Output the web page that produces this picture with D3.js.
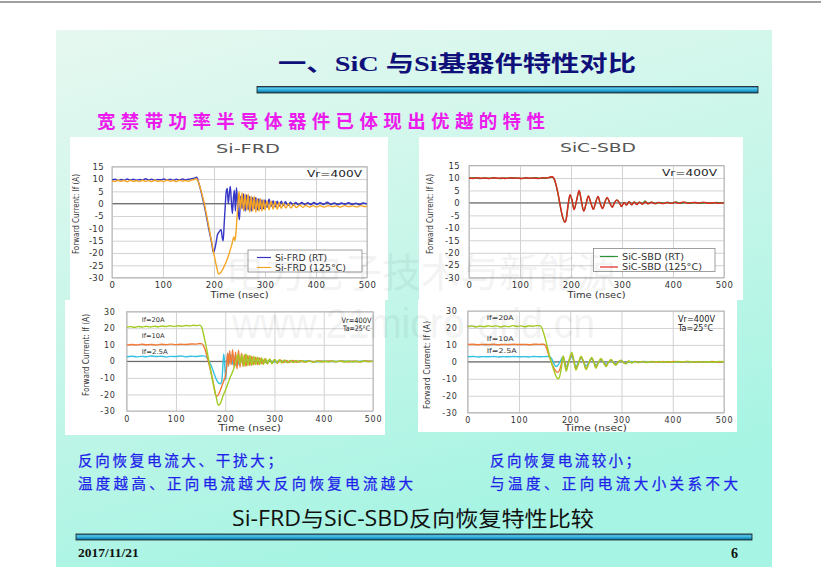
<!DOCTYPE html>
<html>
<head>
<meta charset="utf-8">
<script src="https://cdn.jsdelivr.net/npm/d3@7/dist/d3.min.js"></script>
<style>
    body { margin: 0; background: #fff; }
    svg { display: block; }
</style>
</head>
<body>
<svg id="slide" width="821" height="585"></svg>
<script>
// ---- values: [time nsec, current A] ----
var timeTicks = [0, 100, 200, 300, 400, 500];
var topTicks = [15, 10, 5, 0, -5, -10, -15, -20, -25, -30];
var bottomTicks = [30, 20, 10, 0, -10, -20, -30];
var frdNames = ["Si-FRD (RT)", "Si-FRD (125°C)"];
var sbdNames = ["SiC-SBD (RT)", "SiC-SBD (125°C)"];
var currentNames = ["If=20A", "If=10A", "If=2.5A"];

var frdRT = [[0,9.6],[6,9.9],[12,9.4],[18,9.8],[24,9.5],[30,10.0],[36,9.6],[42,9.9],[48,9.5],[54,9.8],[60,9.6],[66,10.1],[72,9.6],[78,9.9],[84,9.5],[90,9.8],[96,9.7],[102,10.0],[108,9.6],[114,9.9],[120,9.5],[126,9.9],[132,9.6],[138,10.0],[144,9.7],[150,9.9],[156,10.1],[162,10.4],[166,10.7],[170,8.5],[175,4.5],[180,0],[185,-5],[190,-10.5],[195,-15.5],[199,-19.8],[203,-17],[207,-12.5],[211,-11.2],[214,-10.5],[216,-13.5],[218,-15],[220,-8],[222,-1],[224,5],[226,6.2],[228,0],[230,4],[232,7],[234,1],[236,-4],[238,2],[240,5.5],[242,-3],[244,6.5],[246,1],[248,-4],[250,-6.5],[252,3],[255,-2],[258,4],[261,-3],[264,3.5],[267,-2.5],[270,3],[273,-3],[276,2.5],[279,-2],[282,2.5],[285,-2.5],[288,2],[291,-2],[294,1.5],[297,-2],[300,1.5],[304,-1.5],[308,1.8],[312,-1.2],[316,1.2],[320,-1.3],[324,1],[328,-1],[332,1],[336,-0.8],[340,0.8],[345,-0.8],[350,0.6],[355,-0.6],[360,0.5],[366,-0.5],[372,0.5],[378,-0.4],[384,0.4],[390,-0.4],[396,0.5],[402,-0.3],[408,0.4],[415,-0.3],[422,0.6],[429,-0.3],[436,0.3],[443,-0.4],[450,0.3],[457,-0.2],[464,0.4],[471,-0.3],[478,0.2],[485,-0.4],[492,0.3],[500,-0.1]];
var frdHot = [[0,9.2],[6,9.0],[12,9.5],[18,9.1],[24,9.4],[30,8.9],[36,9.5],[42,9.1],[48,9.3],[54,9.0],[60,9.5],[66,9.1],[72,9.4],[78,9.0],[84,9.5],[90,9.1],[96,9.3],[102,9.0],[108,9.6],[114,9.1],[120,9.4],[126,9.0],[132,9.5],[138,9.2],[144,9.4],[150,9.1],[156,9.6],[161,9.8],[165,10.2],[170,8.5],[175,5],[180,1],[185,-4],[190,-9.5],[195,-15],[200,-20.5],[205,-25.5],[209,-28.5],[213,-28],[218,-26.2],[224,-23.5],[230,-20],[235,-16.5],[239,-13.5],[241,-15],[243,-12],[245,-6],[247,0],[249,5],[252,-2],[255,4.5],[258,-3],[261,4],[264,-2.5],[267,4],[270,-3.5],[273,3],[276,-3],[279,3],[282,-3.5],[285,2],[288,-3],[291,2],[294,-3],[297,1.5],[300,-2.5],[304,1.2],[308,-2.5],[312,1],[316,-2.2],[320,0.8],[324,-2.2],[328,0.5],[332,-2],[336,0.2],[341,-1.8],[346,0],[351,-1.8],[356,-0.3],[362,-1.6],[368,-0.5],[374,-1.5],[380,-0.6],[387,-1.4],[394,-0.8],[401,-1.3],[408,-0.8],[416,-1.4],[424,-0.8],[432,-1.2],[440,-0.9],[448,-1.4],[456,-0.8],[464,-1.2],[472,-0.9],[480,-1.3],[488,-0.8],[496,-1.2],[500,-1.0]];

var sbdRT = [[0,9.9],[10,10.1],[20,9.8],[30,10.0],[40,9.9],[50,10.1],[60,9.8],[70,10.0],[80,9.9],[90,10.1],[100,9.8],[110,10.0],[120,9.9],[130,10.1],[140,9.9],[150,10.0],[158,10.2],[163,10.4],[168,9],[172,6],[176,2],[180,-2.5],[184,-6],[188,-7.5],[191,-6],[194,-1.5],[198,3],[202,1],[206,-2.5],[211,1],[216,4.8],[220,1],[225,-3.2],[230,0],[234,2.7],[239,0],[244,-2.5],[248,0],[253,2.5],[257,0],[262,-2.2],[266,0],[271,2],[276,0],[281,-1.7],[285,0],[290,1.1],[295,0],[299,-1.4],[304,0.2],[309,-0.8],[314,0.5],[319,-0.7],[324,0.4],[329,-0.6],[334,0.3],[340,-0.4],[345,0.8],[350,-0.3],[358,0.3],[366,-0.3],[374,0.2],[382,-0.2],[390,0.3],[398,-0.2],[406,0.4],[414,-0.2],[424,0.2],[434,-0.1],[444,0.2],[454,-0.2],[464,0.1],[474,-0.2],[484,0.2],[494,-0.1],[500,0.1]];
var sbdHot = [[0,10.0],[8,9.8],[16,10.1],[24,9.9],[32,10.0],[40,9.8],[48,10.1],[56,9.9],[64,10.0],[72,9.8],[80,10.1],[88,9.9],[96,10.0],[104,9.8],[112,10.1],[120,9.9],[128,10.0],[136,9.8],[144,10.1],[152,10.0],[158,10.3],[163,10.5],[168,9.2],[172,6.2],[176,2.2],[180,-2.2],[184,-6],[188,-7.8],[191,-6.2],[194,-1.2],[198,3.3],[202,1.2],[206,-2.7],[211,1],[216,5],[220,1.2],[225,-3.3],[230,0],[234,2.8],[239,0],[244,-2.6],[248,0],[253,2.6],[257,0],[262,-2.3],[266,0],[271,2.2],[276,0],[281,-1.8],[285,0],[290,1.2],[295,0],[299,-1.5],[304,0.2],[309,-0.9],[314,0.5],[319,-0.8],[324,0.4],[329,-0.7],[334,0.3],[340,-0.5],[346,0.4],[352,-0.4],[358,0.3],[364,-0.3],[372,0.2],[380,-0.3],[388,0.2],[396,-0.2],[404,0.3],[412,-0.2],[420,0.4],[430,-0.2],[440,0.2],[450,-0.1],[460,0.3],[470,-0.2],[480,0.1],[490,-0.2],[500,0]];

var frd20 = [[0,20.6],[8,21.0],[16,20.5],[24,21.1],[32,20.7],[40,21.2],[48,20.8],[56,21.2],[64,20.9],[72,21.4],[80,21.0],[88,21.5],[96,21.1],[104,21.5],[112,21.2],[120,21.7],[128,21.4],[136,21.8],[142,21.6],[148,21.9],[152,20.8],[157,15],[162,8],[167,0],[172,-8],[177,-15.5],[182,-22],[186,-26.5],[190,-25.5],[196,-20.5],[201,-17],[206,-13],[211,-9],[216,-5.5],[220,-2],[223,1],[226,4.5],[230,-1.5],[234,4],[238,-3],[242,4.5],[246,-2.5],[250,3.5],[254,-2.5],[258,3],[262,-2],[266,2.5],[270,-2],[274,2],[278,-1.8],[282,1.8],[286,-1.5],[290,1.5],[295,-1.5],[300,1.2],[305,-1.2],[310,1],[315,-1],[320,0.8],[326,-0.9],[332,0.6],[338,-0.8],[344,0.5],[350,-0.6],[357,0.4],[364,-0.5],[371,0.3],[378,-0.5],[386,0.3],[394,-0.4],[402,0.2],[410,-0.4],[418,0.3],[426,-0.3],[434,0.2],[442,-0.4],[450,0.2],[458,-0.3],[466,0.1],[474,-0.4],[482,0.2],[490,-0.3],[500,0]];
var frd10 = [[0,9.8],[10,10.2],[20,9.9],[30,10.3],[40,10.0],[50,10.2],[60,9.9],[70,10.3],[80,10.1],[90,10.4],[100,10.1],[110,10.3],[120,10.2],[130,10.5],[140,10.4],[148,10.8],[153,10.6],[158,8],[163,3],[168,-3],[173,-9],[177,-15],[181,-20.5],[184,-21],[188,-19],[193,-15],[198,-11],[201,-8],[203,-2],[205,5],[207,-3],[209,6.5],[212,-2],[215,7],[218,-3.5],[221,5.5],[224,-4.5],[227,6.8],[230,-3.5],[233,5],[236,-3],[239,4],[242,-3],[246,3.5],[250,-2.5],[254,3],[258,-2],[262,2.5],[266,-2],[270,2],[275,-1.5],[280,1.5],[285,-1.5],[290,1.2],[295,-1.2],[300,1],[306,-1],[312,0.8],[318,-0.8],[324,0.6],[330,-0.7],[337,0.5],[344,-0.5],[352,0.4],[360,-0.4],[370,0.3],[380,-0.3],[390,0.3],[400,-0.2],[412,0.2],[424,-0.3],[436,0.2],[448,-0.2],[460,0.1],[472,-0.2],[484,0.2],[500,0]];
var frd25 = [[0,2.8],[10,3.1],[20,2.7],[30,3.0],[40,2.8],[50,3.2],[60,2.9],[70,3.1],[80,2.7],[90,3.0],[100,2.9],[110,3.2],[120,2.8],[130,3.1],[140,2.9],[150,3.2],[157,3.3],[162,2.5],[167,0],[172,-3],[177,-7],[182,-11],[186,-13],[190,-13.5],[193,-12],[195,-4],[197,4.5],[199,-2],[201,-11],[203,-3],[205,5],[208,-1],[211,4],[214,-2],[217,3.5],[220,-2.5],[224,2.5],[228,-2],[232,2],[236,-1.5],[240,1.5],[245,-1.2],[250,1.2],[256,-1],[262,0.8],[268,-0.8],[275,0.6],[282,-0.6],[290,0.5],[300,-0.4],[312,0.3],[324,-0.3],[336,0.2],[350,-0.2],[365,0.2],[380,-0.2],[400,0.1],[420,-0.1],[440,0.1],[460,-0.1],[480,0.1],[500,0]];

var sbd20 = [[0,20.8],[8,21.2],[16,20.6],[24,21.1],[32,20.7],[40,21.3],[48,20.9],[56,21.2],[64,20.6],[72,21.1],[80,20.8],[88,21.4],[96,20.9],[104,21.2],[112,20.7],[120,21.3],[128,21.0],[136,21.4],[142,21.2],[146,19],[151,14],[156,8],[161,2],[166,-3],[171,-7.5],[176,-10],[179,-9],[183,-3],[186,3.5],[189,0],[192,-5.5],[197,0],[203,5.5],[207,1],[211,-4.8],[216,-1],[221,3.2],[226,0],[231,-4.6],[236,-1],[242,2.6],[246,0],[250,-3.8],[255,-0.5],[260,2],[265,-0.5],[270,-2.8],[275,0],[280,1.4],[284,-0.5],[289,-2],[294,0],[299,1],[304,-0.5],[309,-1.2],[314,0.5],[320,-0.6],[326,0.3],[332,-0.5],[340,0.3],[348,-0.4],[356,0.2],[364,-0.3],[372,0.3],[380,-0.2],[390,0.2],[400,-0.3],[410,0.2],[420,-0.1],[430,0.3],[440,-0.2],[450,0.2],[460,-0.3],[470,0.1],[480,-0.2],[490,0.3],[500,0.1]];
var sbd10 = [[0,10.2],[10,10.4],[20,10.1],[30,10.3],[40,10.2],[50,10.4],[60,10.1],[70,10.3],[80,10.2],[90,10.4],[100,10.2],[110,10.3],[120,10.1],[130,10.4],[140,10.3],[148,10.4],[152,9.5],[156,6],[160,2.5],[164,-1],[168,-3.5],[172,-5.5],[176,-6.2],[179,-5],[183,-1],[186,3],[189,0],[192,-4.8],[197,0],[203,4.5],[207,0.5],[211,-4.2],[216,-1],[221,3],[226,0],[231,-4],[236,-1],[242,2.2],[246,0],[250,-3.2],[255,-0.5],[260,1.6],[265,-0.5],[270,-2.4],[275,0],[280,1.1],[284,-0.5],[289,-1.6],[294,0],[299,0.8],[304,-0.5],[309,-1],[314,0.4],[320,-0.5],[326,0.3],[334,-0.4],[342,0.3],[350,-0.3],[360,0.2],[370,-0.2],[380,0.2],[392,-0.2],[404,0.3],[416,-0.1],[428,0.2],[440,-0.2],[452,0.1],[464,-0.2],[476,0.2],[488,-0.1],[500,0.2]];
var sbd25 = [[0,3.0],[10,3.2],[20,2.9],[30,3.1],[40,3.0],[50,3.2],[60,2.9],[70,3.1],[80,3.0],[90,3.2],[100,3.0],[110,3.1],[120,2.9],[130,3.2],[140,3.0],[150,3.1],[158,3.2],[162,2.6],[166,0.5],[169,-1.5],[172,-2.8],[176,-2],[181,0.5],[186,3],[189,0.5],[192,-2.8],[197,0],[203,3.2],[207,0.5],[211,-2.8],[216,-0.5],[221,2.2],[226,0],[231,-2.5],[236,-0.5],[242,1.6],[246,0],[250,-2],[255,-0.3],[260,1.2],[265,-0.3],[270,-1.4],[275,0],[280,0.8],[289,-1],[299,0.5],[309,-0.6],[320,0.3],[332,-0.3],[345,0.2],[360,-0.2],[380,0.1],[400,-0.1],[430,0.1],[460,-0.1],[500,0]];

var svg = d3.select("#slide");
var defs = svg.append("defs");
var chartFont = "DejaVu Sans, Liberation Sans, sans-serif";
var cjkFont = "'Noto Sans CJK SC', sans-serif";

// slide background
var bg = defs.append("linearGradient").attr("id", "bgGrad")
    .attr("x1", 0).attr("y1", 0).attr("x2", 0.35).attr("y2", 1);
bg.append("stop").attr("offset", "0%").attr("stop-color", "#e6f8f0");
bg.append("stop").attr("offset", "55%").attr("stop-color", "#c6f6e9");
bg.append("stop").attr("offset", "100%").attr("stop-color", "#a6f4e3");

var bar = defs.append("linearGradient").attr("id", "barGrad")
    .attr("x1", 0).attr("y1", 0).attr("x2", 0).attr("y2", 1);
bar.append("stop").attr("offset", "0%").attr("stop-color", "#1b6f96");
bar.append("stop").attr("offset", "30%").attr("stop-color", "#55c6ea");
bar.append("stop").attr("offset", "65%").attr("stop-color", "#22a0cf");
bar.append("stop").attr("offset", "100%").attr("stop-color", "#0c5a82");

svg.append("line").attr("x1", 0).attr("x2", 821).attr("y1", 2).attr("y2", 2)
    .attr("stroke", "#808080").attr("stroke-width", 1.5);
svg.append("rect").attr("x", 56).attr("y", 30).attr("width", 716).attr("height", 537)
    .attr("fill", "url(#bgGrad)");

function label(g, txt, x, y, size, len, anchor, color) {
    var t = g.append("text")
        .attr("x", x)
        .attr("y", y)
        .attr("font-size", size)
        .attr("font-family", chartFont)
        .attr("text-anchor", anchor || "start")
        .attr("fill", color || "#333")
        .text(txt);
    if (len)
        t.attr("textLength", len).attr("lengthAdjust", "spacingAndGlyphs");
    return t;
}

function drawChart(cfg, idx) {
    var g = svg.append("g");
    g.append("rect")
        .attr("x", cfg.panel[0]).attr("y", cfg.panel[1])
        .attr("width", cfg.panel[2]).attr("height", cfg.panel[3])
        .attr("fill", "#fff");

    var x = d3.scaleLinear().domain([0, 500]).range([cfg.plot[0], cfg.plot[1]]);
    var y = d3.scaleLinear().domain(d3.extent(cfg.yTicks)).range([cfg.plot[3], cfg.plot[2]]);
    var w = cfg.plot[1] - cfg.plot[0], h = cfg.plot[3] - cfg.plot[2];

    // horizontal grid + value labels
    g.append("g")
        .attr("transform", "translate(" + cfg.plot[0] + ",0)")
        .call(d3.axisLeft(y).tickValues(cfg.yTicks).tickSize(-w).tickPadding(cfg.yPad)
            .tickFormat(function(d) { return String(d); }))
        .call(function(a) {
            a.select(".domain").remove();
            a.selectAll("line").attr("stroke", "#d2d2d2");
            a.selectAll("text").attr("font-family", chartFont).attr("font-size", cfg.tickSize)
                .attr("fill", "#333").attr("letter-spacing", cfg.tickSpacing);
        });

    // vertical grid + time labels
    g.append("g")
        .attr("transform", "translate(0," + cfg.plot[3] + ")")
        .call(d3.axisBottom(x).tickValues(timeTicks).tickSize(-h).tickPadding(cfg.xPad))
        .call(function(a) {
            a.select(".domain").remove();
            a.selectAll("line").attr("stroke", "#d2d2d2");
            a.selectAll("text").attr("font-family", chartFont).attr("font-size", cfg.tickSize)
                .attr("fill", "#333").attr("letter-spacing", cfg.tickSpacing);
        });

    g.append("line")
        .attr("x1", x(0)).attr("x2", x(500)).attr("y1", y(0)).attr("y2", y(0))
        .attr("stroke", "#555").attr("stroke-width", 1);
    g.append("rect")
        .attr("x", cfg.plot[0]).attr("y", cfg.plot[2]).attr("width", w).attr("height", h)
        .attr("fill", "none").attr("stroke", "#b5b5b5");

    defs.append("clipPath").attr("id", "clip" + idx)
        .append("rect").attr("x", cfg.plot[0]).attr("y", cfg.plot[2] - 2)
        .attr("width", w).attr("height", h + 4);

    var line = d3.line()
        .curve(d3.curveMonotoneX)
        .x(function(d) { return x(d[0]); })
        .y(function(d) { return y(d[1]); });

    g.append("g")
        .attr("clip-path", "url(#clip" + idx + ")")
        .selectAll("path")
        .data(cfg.series)
        .enter()
        .append("path")
        .attr("d", function(d) { return line(d.data); })
        .attr("fill", "none")
        .attr("stroke", function(d) { return d.color; })
        .attr("stroke-width", 1.4)
        .attr("stroke-linejoin", "round");

    if (cfg.title)
        label(g, cfg.title[0], cfg.title[1], cfg.title[2], 12.5, cfg.title[3], "middle", "#555");

    label(g, "Forward Current: If (A)", 0, 0, 9, cfg.yLab[2], "middle", "#333")
        .attr("x", null).attr("y", null)
        .attr("transform", "translate(" + cfg.yLab[0] + "," + cfg.yLab[1] + ") rotate(-90)");
    label(g, "Time (nsec)", (cfg.plot[0] + cfg.plot[1]) / 2, cfg.timeLab[0], 9, cfg.timeLab[1], "middle", "#333");

    cfg.notes.forEach(function(n) {
        label(g, n[0], n[1], n[2], n[3], n[4], "end", "#222");
    });

    if (cfg.legend) {
        var L = cfg.legend;
        g.append("rect").attr("x", L.box[0]).attr("y", L.box[1])
            .attr("width", L.box[2]).attr("height", L.box[3])
            .attr("fill", "#fff").attr("stroke", "#888").attr("stroke-width", 0.8);
        L.names.forEach(function(name, i) {
            g.append("line").attr("x1", L.line[0]).attr("x2", L.line[1])
                .attr("y1", L.rows[i] - 3).attr("y2", L.rows[i] - 3)
                .attr("stroke", L.colors[i]).attr("stroke-width", 1.2);
            label(g, name, L.textX, L.rows[i], 9, L.lens[i], "start", "#333");
        });
    }

    if (cfg.tags) {
        cfg.tags.names.forEach(function(name, i) {
            label(g, name, cfg.tags.x, cfg.tags.rows[i], 6.5, cfg.tags.len[i], "start", "#333");
        });
    }
}

drawChart({
    panel: [70, 137, 318, 163],
    plot: [112, 367, 166.7, 277.7],
    yTicks: topTicks, yPad: 8, xPad: 4, tickSize: 8.5, tickSpacing: 0.4,
    title: ["Si-FRD", 248, 153, 64],
    yLab: [79, 214, 80], timeLab: [298, 58],
    notes: [["Vr=400V", 362, 176.5, 9.5, 55]],
    series: [{data: frdRT, color: "#3535c8"}, {data: frdHot, color: "#f6a623"}],
    legend: {box: [248, 250, 114, 22], line: [257, 271], textX: 275, rows: [260.5, 270.5],
             names: frdNames, colors: ["#3535c8", "#f6a623"], lens: [52, 71]}
}, 0);

drawChart({
    panel: [419, 137, 324, 163],
    plot: [469, 724, 165.5, 277.7],
    yTicks: topTicks, yPad: 9, xPad: 4, tickSize: 8.5, tickSpacing: 0.4,
    title: ["SiC-SBD", 598, 152, 76],
    yLab: [433, 214, 80], timeLab: [297.5, 58],
    notes: [["Vr=400V", 717, 176, 9.5, 55]],
    series: [{data: sbdRT, color: "#2e9a3a"}, {data: sbdHot, color: "#e0251e"}],
    legend: {box: [593.5, 248.5, 121.5, 23], line: [600, 618], textX: 622, rows: [259.5, 270],
             names: sbdNames, colors: ["#2e9a3a", "#e0251e"], lens: [62, 80]}
}, 1);

drawChart({
    panel: [65, 300, 320, 135],
    plot: [126.7, 373, 311.7, 411],
    yTicks: bottomTicks, yPad: 11, xPad: 5, tickSize: 8, tickSpacing: 0.8,
    yLab: [89, 355, 82], timeLab: [430.5, 62],
    notes: [["Vr=400V", 371.5, 322.5, 7.5, 30], ["Ta=25°C", 370, 330.5, 7.5, 27]],
    series: [{data: frd25, color: "#35c2e2"}, {data: frd10, color: "#f27a36"}, {data: frd20, color: "#a2cc22"}],
    tags: {names: currentNames, x: 141.7, rows: [321.5, 338, 354], len: [23, 23, 26]}
}, 2);

drawChart({
    panel: [418, 300, 319, 132],
    plot: [467.7, 724, 311, 412.7],
    yTicks: bottomTicks, yPad: 10, xPad: 5, tickSize: 8, tickSpacing: 0.8,
    yLab: [430, 365, 88], timeLab: [430.5, 62],
    notes: [["Vr=400V", 715, 322, 8.5, 37], ["Ta=25°C", 713, 330.5, 8.5, 35]],
    series: [{data: sbd25, color: "#35c2e2"}, {data: sbd10, color: "#f27a36"}, {data: sbd20, color: "#a2cc22"}],
    tags: {names: currentNames, x: 486.7, rows: [320, 341, 353.3], len: [27, 27, 30]}
}, 3);

// faint site watermarks over the pictures
svg.append("text").attr("x", 226).attr("y", 287).attr("font-size", 40)
    .attr("font-family", cjkFont).attr("fill", "#000").attr("opacity", 0.045)
    .attr("textLength", 390).attr("lengthAdjust", "spacingAndGlyphs")
    .text("电力电子技术与新能源");
svg.append("text").attr("x", 232).attr("y", 338).attr("font-size", 42)
    .attr("font-family", "Liberation Sans, sans-serif").attr("fill", "#000").attr("opacity", 0.045)
    .attr("textLength", 363).attr("lengthAdjust", "spacingAndGlyphs")
    .text("www.21micro-grid.cn");

// slide texts
svg.append("text").attr("x", 278).attr("y", 71).attr("font-size", 22).attr("font-weight", "bold")
    .attr("font-family", "'Liberation Serif', 'Noto Sans CJK SC', serif").attr("fill", "#10107a")
    .attr("textLength", 358).attr("lengthAdjust", "spacingAndGlyphs")
    .text("一、SiC 与Si基器件特性对比");
svg.append("rect").attr("x", 257).attr("y", 86.5).attr("width", 501).attr("height", 6.5)
    .attr("fill", "url(#barGrad)").attr("stroke", "#1a1a1a").attr("stroke-width", 0.8);

svg.append("text").attr("x", 97).attr("y", 128).attr("font-size", 18.5).attr("font-weight", "bold")
    .attr("font-family", cjkFont).attr("fill", "#ec1aec")
    .attr("textLength", 448).attr("lengthAdjust", "spacing")
    .text("宽禁带功率半导体器件已体现出优越的特性");

var blueLines = [
    ["反向恢复电流大、干扰大；", 78, 466, 204],
    ["温度越高、正向电流越大反向恢复电流越大", 78, 489, 335],
    ["反向恢复电流较小；", 490, 466, 150],
    ["与温度、正向电流大小关系不大", 490, 489, 248]
];
svg.selectAll("text.note")
    .data(blueLines)
    .enter()
    .append("text")
    .attr("class", "note")
    .attr("x", function(d) { return d[1]; })
    .attr("y", function(d) { return d[2]; })
    .attr("textLength", function(d) { return d[3]; })
    .attr("lengthAdjust", "spacing")
    .attr("font-size", 14.5)
    .attr("font-family", cjkFont)
    .attr("fill", "#2020ea")
    .attr("stroke", "#2020ea")
    .attr("stroke-width", 0.25)
    .text(function(d) { return d[0]; });

svg.append("text").attr("x", 232).attr("y", 526).attr("font-size", 21)
    .attr("font-family", "'Open Sans', 'Noto Sans CJK SC', sans-serif").attr("fill", "#111")
    .attr("textLength", 362).attr("lengthAdjust", "spacingAndGlyphs")
    .text("Si-FRD与SiC-SBD反向恢复特性比较");
svg.append("rect").attr("x", 76).attr("y", 534).attr("width", 676).attr("height", 6)
    .attr("fill", "url(#barGrad)").attr("stroke", "#1a1a1a").attr("stroke-width", 0.8);

svg.append("text").attr("x", 78).attr("y", 557).attr("font-size", 13.5).attr("font-weight", "bold")
    .attr("font-family", "'Liberation Serif', serif").attr("fill", "#111").text("2017/11/21");
svg.append("text").attr("x", 738).attr("y", 558).attr("font-size", 14).attr("font-weight", "bold")
    .attr("text-anchor", "end")
    .attr("font-family", "'Liberation Serif', serif").attr("fill", "#111").text("6");
</script>
</body>
</html>
